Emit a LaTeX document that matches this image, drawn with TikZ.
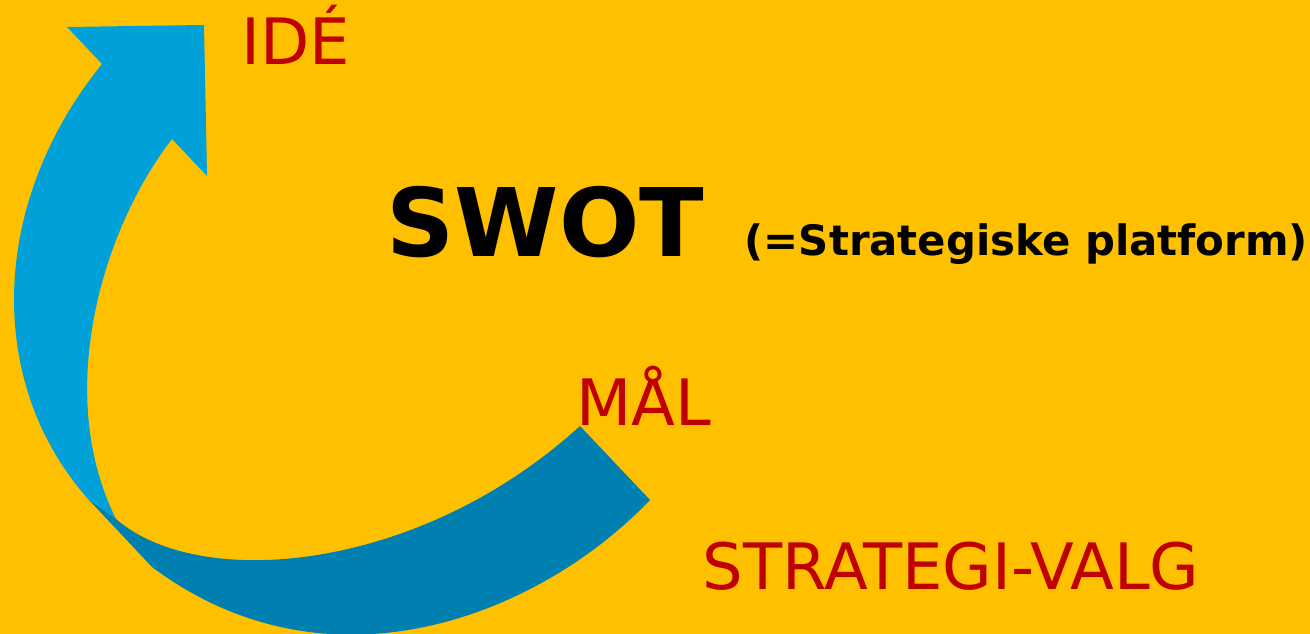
\documentclass[tikz,border=0pt]{standalone}
\usepackage{fontspec}
\setmainfont{DejaVu Sans}
\usepackage{xcolor}
\usepackage{tikz}
\usetikzlibrary{positioning}

\definecolor{swotorange}{HTML}{FFC000}
\definecolor{arrowlight}{HTML}{00A0D8}
\definecolor{arrowdark}{HTML}{0080B0}
\definecolor{labelred}{HTML}{C00000}

\begin{document}
\begin{tikzpicture}[x=0.01cm, y=-0.01cm,
    steplabel/.style={anchor=base west, inner sep=0pt, text=labelred, font=\fontsize{18.2}{20}\selectfont}]
            % Background
            \fill[swotorange] (0,0) rectangle (1310,634);
            \useasboundingbox (0,0) rectangle (1310,634);

            % Light part of the arrow, with its head
            \fill[arrowlight] (102,64) -- (67,27) -- (204,25) -- (207,176) -- (172,139)
                .. controls (105,225) and (52,390) .. (116,519)
                -- (89,500)
                .. controls (-14,385) and (-12,205) .. (102,64) -- cycle;

            % Dark part of the arrow
            \fill[arrowdark] (580,426) -- (650,500)
                .. controls (540,615) and (330,700) .. (152,567)
                -- (89,500) -- (116,519)
                .. controls (200,592) and (420,572) .. (580,426) -- cycle;

            % Labels
            \node[steplabel] (ide) at (241,65) {IDÉ};
            \node[anchor=base west, inner sep=0pt, font=\fontsize{26.9}{30}\selectfont\bfseries] (swot) at (386,257) {SWOT};
            \node[anchor=base west, inner sep=0pt, font=\fontsize{11.9}{13}\selectfont\bfseries] (platform) at (744,256) {(=Strategiske platform)};
            \node[steplabel] (maal) at (576,425) {MÅL};
            \node[steplabel] (valg) at (702,589) {STRATEGI-VALG};
        \end{tikzpicture}
\end{document}
